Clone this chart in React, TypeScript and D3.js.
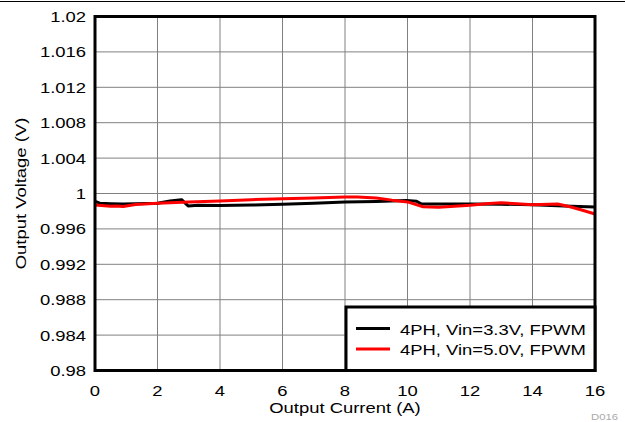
import React from "react";
import * as d3 from "d3";

const xTicks = [0, 2, 4, 6, 8, 10, 12, 14, 16];
const yTicks = [0.98, 0.984, 0.988, 0.992, 0.996, 1, 1.004, 1.008, 1.012, 1.016, 1.02];
const yTickLabels = ["0.98", "0.984", "0.988", "0.992", "0.996", "1", "1.004", "1.008", "1.012", "1.016", "1.02"];

const current33 = [0, 0.05, 0.15, 0.5, 0.9, 1.3, 2.0, 2.4, 2.77, 2.98, 3.3, 4, 5, 6, 7, 8, 9, 9.97, 10.29, 10.45, 11, 12, 13, 14, 15, 16];
const vout33 = [0.9991, 0.99905, 0.9989, 0.99885, 0.9988, 0.99885, 0.9989, 0.99915, 0.9993, 0.9986, 0.99868, 0.99865, 0.9987, 0.99878, 0.9989, 0.99905, 0.9991, 0.9992, 0.99912, 0.9988, 0.99882, 0.9988, 0.99878, 0.99874, 0.9986, 0.99848];

const current50 = [0, 0.3, 0.5, 0.7, 0.9, 1.1, 1.3, 2.0, 3.0, 4, 5, 6, 7, 8, 8.4, 9, 9.5, 10.0, 10.5, 11.0, 12, 12.5, 13.0, 13.5, 14.0, 14.8, 15.2, 15.6, 16];
const vout50 = [0.9987, 0.99862, 0.99855, 0.9986, 0.99852, 0.99865, 0.99875, 0.9989, 0.99903, 0.99915, 0.9993, 0.9994, 0.9995, 0.9996, 0.9996, 0.9995, 0.99925, 0.99905, 0.9985, 0.99844, 0.99867, 0.99885, 0.99895, 0.99885, 0.99872, 0.99881, 0.9985, 0.9981, 0.99768];

const seriesNames = ["4PH, Vin=3.3V, FPWM", "4PH, Vin=5.0V, FPWM"];
const seriesColors = ["#000000", "#ff0000"];

const W = 625;
const H = 422;
const L = 95, R = 595, T = 16.5, B = 370.5;
const font = "'Liberation Sans', Arial, sans-serif";
const FS = 15.5;
const SX = 1.19;

function Txt(props: { x: number; y: number; anchor?: string; size?: number; fill?: string; rotate?: number; children: React.ReactNode }) {
  const { x, y, anchor = "start", size = FS, fill = "#000", rotate = 0, children } = props;
  return (
    <text
      transform={`translate(${x},${y}) rotate(${rotate}) scale(${SX},1)`}
      fontSize={size}
      textAnchor={anchor}
      fill={fill}
    >
      {children}
    </text>
  );
}

export default function App() {
  const x = d3.scaleLinear().domain([0, 16]).range([L, R]);
  const y = d3.scaleLinear().domain([0.98, 1.02]).range([B, T]);
  const line = d3.line<[number, number]>().x((d) => x(d[0])).y((d) => y(d[1]));
  const d33 = line(current33.map((c, i) => [c, vout33[i]] as [number, number])) || "";
  const d50 = line(current50.map((c, i) => [c, vout50[i]] as [number, number])) || "";
  const paths = [d33, d50];

  const lgX = 346, lgY = 307;
  return (
    <svg width={W} height={H} style={{ position: "absolute", left: 0, top: 0, background: "#fff" }} fontFamily={font}>
      <rect x={0} y={0} width={W} height={H} fill="#fff" />
      <line x1={0} x2={W} y1={1.5} y2={1.5} stroke="#000" strokeWidth={1.2} />
      {xTicks.map((t) => (
        <line key={"gx" + t} x1={x(t)} x2={x(t)} y1={T} y2={B} stroke="#808080" strokeWidth={1} />
      ))}
      {yTicks.map((t) => (
        <line key={"gy" + t} x1={L} x2={R} y1={y(t)} y2={y(t)} stroke="#808080" strokeWidth={1} />
      ))}
      {paths.map((p, i) => (
        <path key={i} d={p} fill="none" stroke={seriesColors[i]} strokeWidth={3} strokeLinejoin="round" />
      ))}
      <rect x={L} y={T} width={R - L} height={B - T} fill="none" stroke="#000" strokeWidth={3} />
      {xTicks.map((t) => (
        <Txt key={"tx" + t} x={x(t)} y={396} anchor="middle">{t}</Txt>
      ))}
      {yTicks.map((t, i) => (
        <Txt key={"ty" + t} x={86} y={y(t) + 5.5} anchor="end">{yTickLabels[i]}</Txt>
      ))}
      <Txt x={x(8)} y={413} anchor="middle">Output Current (A)</Txt>
      <Txt x={26} y={(T + B) / 2} anchor="middle" rotate={-90}>Output Voltage (V)</Txt>
      <rect x={lgX} y={lgY} width={R - lgX} height={B - lgY} fill="#fff" stroke="#000" strokeWidth={3} />
      {seriesNames.map((n, i) => (
        <g key={n}>
          <line x1={356} x2={390} y1={328.5 + i * 20.5} y2={328.5 + i * 20.5} stroke={seriesColors[i]} strokeWidth={3} />
          <Txt x={400} y={334.5 + i * 20.5}>{n}</Txt>
        </g>
      ))}
      <Txt x={591} y={420} size={9.5} fill="#aaa">D016</Txt>
    </svg>
  );
}
